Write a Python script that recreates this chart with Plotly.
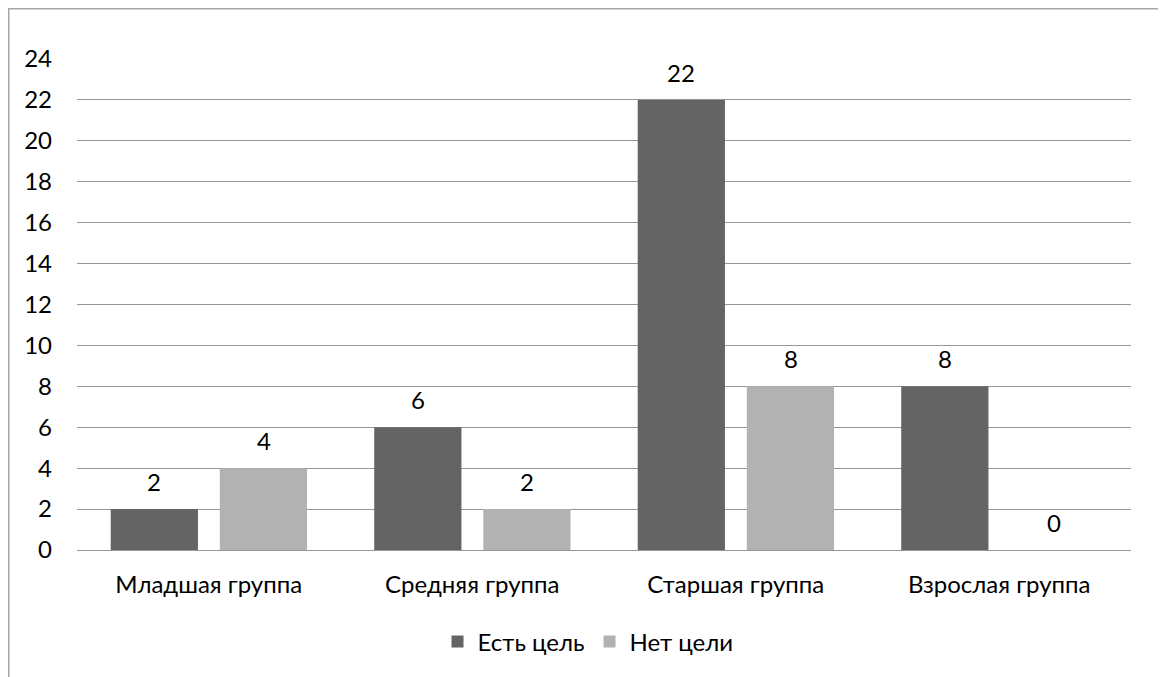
import plotly.graph_objects as go

categories = ["Младшая группа", "Средняя группа", "Старшая группа", "Взрослая группа"]
series_names = ["Есть цель", "Нет цели"]
has_goal = [2, 6, 22, 8]
no_goal = [4, 2, 8, 0]
y_ticks = [0, 2, 4, 6, 8, 10, 12, 14, 16, 18, 20, 22, 24]

FONT = "Lato"
FS = 24
colors = ["#646464", "#b2b2b2"]
bar_w = 0.331
offsets = [-0.372, 0.042]
shifts = [-54.4, 54.9]

fig = go.Figure()
for name, vals, col, off in zip(series_names, [has_goal, no_goal], colors, offsets):
    fig.add_trace(go.Bar(
        x=categories, y=vals, name=name, marker=dict(color=col, line=dict(width=0)),
        width=bar_w, offset=off,
    ))

annotations = []
for vals, sh in zip([has_goal, no_goal], shifts):
    for c, v in zip(categories, vals):
        annotations.append(dict(
            x=c, y=v, xref="x", yref="y", text=str(v), showarrow=False,
            xshift=sh, yanchor="bottom", yshift=11,
            font=dict(family=FONT, size=FS, color="#000000"),
        ))

W, H = 1153, 669
L, T = 69, 51
R = W - (1131 - 8)
B = H - (550 - 8)
pw, ph = W - L - R, H - T - B

bx0 = (0.75 - L) / pw
bx1 = (W - 0.75 - L) / pw
by_top = ((T + ph) - 0.75) / ph
by_bot = -(B + 20) / ph
border_path = f"M {bx0},{by_bot} L {bx0},{by_top} L {bx1},{by_top} L {bx1},{by_bot}"

fig.update_layout(
    width=W, height=H,
    margin=dict(l=L, r=R, t=T, b=B, pad=0, autoexpand=False),
    paper_bgcolor="white", plot_bgcolor="white",
    barmode="overlay",
    font=dict(family=FONT, size=FS, color="#000000"),
    showlegend=True,
    legend=dict(orientation="h", xref="container", x=(580) / W, xanchor="center",
                yref="container", y=1 - 634 / H, yanchor="middle",
                font=dict(family=FONT, size=FS, color="#000000"),
                itemwidth=30, tracegroupgap=0),
    xaxis=dict(type="category", categoryorder="array", categoryarray=categories,
               range=[-0.5, 3.5], showgrid=False, zeroline=False, automargin=False,
               showline=True, linecolor="#969696", linewidth=1,
               ticks="", ticklabelstandoff=13, tickfont=dict(family=FONT, size=FS)),
    yaxis=dict(range=[0, 24], tickvals=y_ticks, ticktext=[str(t) for t in y_ticks],
               showgrid=True, gridcolor="#969696", gridwidth=1, zeroline=False,
               automargin=False,
               showline=False, ticks="", ticklabelstandoff=24,
               tickfont=dict(family=FONT, size=FS)),
    annotations=annotations,
    shapes=[dict(type="path", xref="paper", yref="paper", path=border_path,
                 line=dict(color="#a6a6a6", width=1.5), layer="below")],
)

fig.write_html("out.html", post_script="document.body.style.overflow='hidden';")
